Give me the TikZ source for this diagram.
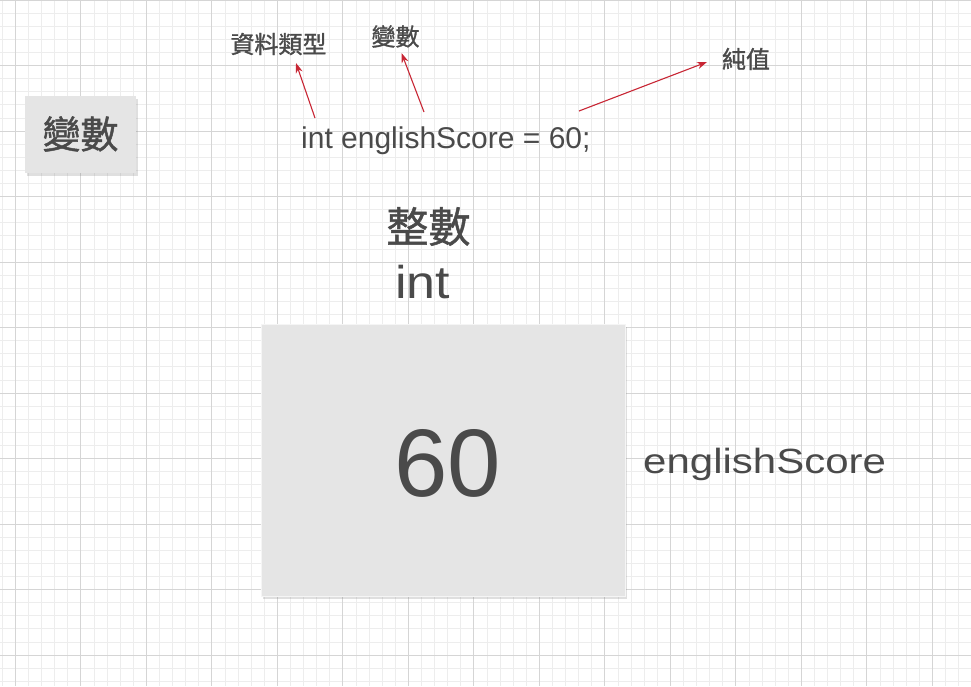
\documentclass[tikz,border=0pt]{standalone}
\usepackage{fontspec}
\setmainfont{Liberation Sans}
\newfontfamily\cjk{Noto Sans CJK TC}[FakeBold=1.2]
\usepackage{xcolor}
\usepackage{tikz}
\usetikzlibrary{arrows.meta, shadows}

\definecolor{inkgray}{HTML}{4A4A4A}
\definecolor{boxgray}{HTML}{E5E5E5}
\definecolor{gridminor}{HTML}{EDEDED}
\definecolor{gridmajor}{HTML}{D5D5D5}
\definecolor{arrowred}{RGB}{200,38,52}

\tikzset{
    cjklabel/.style={inner sep=0pt, text=inkgray, font=\cjk\fontsize{24}{28}\selectfont},
    codetext/.style={inner sep=0pt, text=inkgray},
    graybox/.style={rectangle, fill=boxgray, inner sep=0pt,
        drop shadow={shadow xshift=2pt, shadow yshift=-2.5pt, opacity=0.25}},
    pointer/.style={draw=arrowred, line width=1.1pt, -{Stealth[length=10pt, width=7pt]}}
}

\begin{document}
\begin{tikzpicture}[x=1pt, y=-1pt]
    \useasboundingbox (0,0) rectangle (971,686);
    \fill[white] (0,0) rectangle (971,686);

    % Background grid
    \foreach \i in {0,...,73}
        \draw[gridminor, line width=0.8pt] ({2.2+\i*13.1},0) -- ({2.2+\i*13.1},686);
    \foreach \i in {0,...,52}
        \draw[gridminor, line width=0.8pt] (0,{\i*13.1}) -- (971,{\i*13.1});
    \foreach \k in {0,...,14}
        \draw[gridmajor, line width=0.9pt] ({15.3+\k*65.5},0) -- ({15.3+\k*65.5},686);
    \foreach \k in {0,...,10}
        \draw[gridmajor, line width=0.9pt] (0,{\k*65.5}) -- (971,{\k*65.5});

    % Title box
    \node[graybox, minimum width=111pt, minimum height=77pt] (title) at (80.5,134.5) {};
    \node[cjklabel, font=\cjk\fontsize{38}{44}\selectfont] (titletext) at (80.5,134) {變數};

    % Declaration and its parts
    \node[codetext, anchor=base west, font=\fontsize{30}{34}\selectfont] (code) at (301,148)
        {int englishScore = 60;};
    \node[cjklabel] (typename) at (278.5,44) {資料類型};
    \node[cjklabel] (varname) at (395.5,36.5) {變數};
    \node[cjklabel] (literal) at (746,59) {純值};

    % Pointers
    \coordinate (typetail) at (315,118);
    \coordinate (typetip) at (296,63);
    \coordinate (vartail) at (424,112);
    \coordinate (vartip) at (401.5,53);
    \coordinate (littail) at (579,111);
    \coordinate (littip) at (707,62);
    \draw[pointer] (typetail) -- (typetip);
    \draw[pointer] (vartail) -- (vartip);
    \draw[pointer] (littail) -- (littip);

    % Memory cell
    \node[cjklabel, font=\cjk\fontsize{42}{48}\selectfont] (kind) at (428.5,226.5) {整數};
    \node[codetext, anchor=base west, font=\fontsize{46}{52}\selectfont] (kindname) at (395,298)
        {\scalebox{1.13}[1]{int}};
    \node[graybox, draw=white!96!black, line width=1pt,
        minimum width=364pt, minimum height=272pt] (cell) at (443,460) {};
    \node[codetext, anchor=base, font=\fontsize{96}{110}\selectfont] (value) at (448,496) {60};
    \node[codetext, anchor=base west, font=\fontsize{35}{40}\selectfont] (cellname) at (643,473)
        {\scalebox{1.2}[1]{englishScore}};
\end{tikzpicture}
\end{document}
